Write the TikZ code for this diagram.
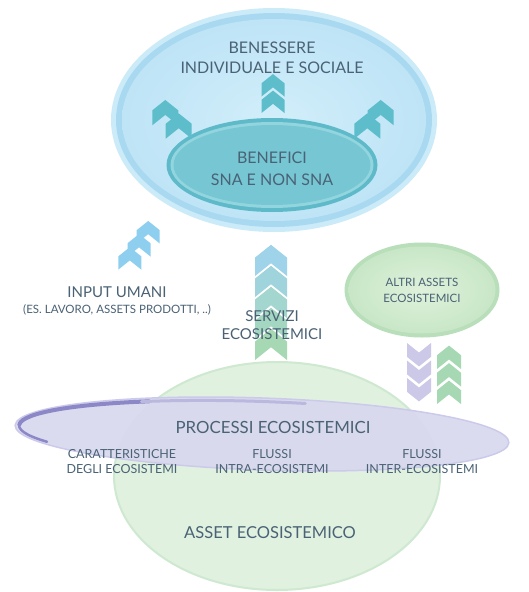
\documentclass[tikz,border=0pt]{standalone}
\usepackage{fontspec}
\setmainfont{Lato}
\usetikzlibrary{shapes.geometric,positioning}

\definecolor{txt}{HTML}{4A6275}
\definecolor{skyglow}{HTML}{CCEBF9}
\definecolor{skyrim}{HTML}{A9D9F1}
\definecolor{skyfill}{HTML}{BEE4F6}
\definecolor{skylite}{HTML}{D2EEFA}
\definecolor{tealrim}{HTML}{5EBAC9}
\definecolor{teallite}{HTML}{93D5DF}
\definecolor{tealfill}{HTML}{76C7D3}
\definecolor{tealchev}{HTML}{5DBDCB}
\definecolor{bluechev}{HTML}{8ECFF0}
\definecolor{colchev}{HTML}{9ED3EA}
\definecolor{greenchev}{HTML}{A6D9B3}
\definecolor{lilachev}{HTML}{CBC8E8}
\definecolor{greenrim}{HTML}{B8DFB9}
\definecolor{greenfill}{HTML}{C8E7C7}
\definecolor{greenlite}{HTML}{DFF1DB}
\definecolor{palegreen}{HTML}{E0F1E0}
\definecolor{palerim}{HTML}{CFE8D0}
\definecolor{lilacfill}{HTML}{D9D8EF}
\definecolor{lilacedge}{HTML}{CCCAEA}
\definecolor{lilacrim}{HTML}{8C88C8}

\tikzset{
  chev/.pic={\path[pic actions] (-1,-1.0) -- (-1,0.15) -- (0,0.95) -- (1,0.15) -- (1,-1.0) -- (0,-0.2) -- cycle;},
  blob/.style={ellipse, inner sep=0pt},
  bigtxt/.style={font=\fontsize{16}{20}\selectfont},
  smalltxt/.style={font=\fontsize{12.5}{15}\selectfont}
}

\begin{document}
\begin{tikzpicture}[x=1pt,y=1pt,every node/.style={text=txt,align=center}]

  \fill[white] (0,0) rectangle (528,-592);

  % asset ecosistemico
  \node[blob, minimum width=326pt, minimum height=228pt, fill=palegreen, draw=palerim, line width=2pt] (assetblob) at (277,-476) {};

  % processi ecosistemici
  \node[blob, minimum width=494pt, minimum height=72pt, rotate=-2, fill=lilacfill, fill opacity=.92, draw=lilacedge, line width=1.5pt] (procblob) at (262,-434) {};
  \begin{scope}[rotate around={-2:(262,-434)}]
    \draw[lilacrim, line width=2.5pt, line cap=round] (262,-434) ++(208:243 and 32.5) arc[start angle=208, end angle=175, x radius=243, y radius=32.5];
    \draw[lilacrim, line width=4pt, line cap=round] (262,-434) ++(178:243 and 32.5) arc[start angle=178, end angle=118, x radius=243, y radius=32.5];
    \draw[lilacrim!60, line width=3pt, line cap=round] (262,-434) ++(120:243 and 32.5) arc[start angle=120, end angle=80, x radius=243, y radius=32.5];
  \end{scope}

  % benessere
  \node[blob, minimum width=326pt, minimum height=224pt, fill=skyglow] (wellblob) at (274,-120) {};
  \node[blob, minimum width=316pt, minimum height=214pt, fill=skyrim] at (wellblob) {};
  \node[blob, minimum width=304pt, minimum height=202pt, inner color=skylite, outer color=skyfill] at (wellblob) {};

  % benefici
  \node[blob, minimum width=211pt, minimum height=94pt, fill=tealrim] (benblob) at (272,-165) {};
  \node[blob, minimum width=203pt, minimum height=86pt, fill=teallite] at (benblob) {};
  \node[blob, minimum width=197pt, minimum height=80pt, fill=tealfill] at (benblob) {};

  % altri assets
  \node[blob, minimum width=155pt, minimum height=95pt, fill=greenrim] (altriblob) at (422,-290) {};
  \node[blob, minimum width=147pt, minimum height=87pt, inner color=greenlite, outer color=greenfill] at (altriblob) {};

  % frecce
  \foreach \k in {0,1}
    \pic[fill=tealchev, scale=11.5] at (273,{-85-16.5*\k}) {chev};
  \begin{scope}[shift={(172,-119)}, rotate=45]
    \foreach \k in {-1,1} \pic[fill=tealchev, scale=13] at (0,9.5*\k) {chev};
  \end{scope}
  \begin{scope}[shift={(374,-119)}, rotate=-45]
    \foreach \k in {-1,1} \pic[fill=tealchev, scale=13] at (0,9.5*\k) {chev};
  \end{scope}
  \begin{scope}[shift={(139,-245)}, rotate=-35]
    \foreach \k in {-1,0,1} \pic[fill=bluechev, scale=11.5] at (0,16*\k) {chev};
  \end{scope}
  \foreach \k/\c in {0/100,1/75,2/50,3/25,4/0}
    \pic[fill=colchev!\c!greenchev, scale=16] at (271,{-260-21*\k}) {chev};
  \foreach \k in {0,1,2}
    \pic[fill=lilachev, scale=12, rotate=180] at (419,{-355-17.5*\k}) {chev};
  \foreach \k in {0,1,2}
    \pic[fill=greenchev, scale=12] at (449,{-357-17.5*\k}) {chev};

  % testi
  \node[bigtxt] (benessere) at (272,-58) {BENESSERE\\INDIVIDUALE E SOCIALE};
  \node[font=\fontsize{16}{22}\selectfont] (benefici) at (272,-169) {BENEFICI\\SNA E NON SNA};
  \node[font=\fontsize{15}{20}\selectfont] (input) at (117,-292) {INPUT UMANI};
  \node[font=\fontsize{11.5}{13}\selectfont, below=0pt of input] (esempi) {(ES. LAVORO, ASSETS PRODOTTI, ..)};
  \node[font=\fontsize{15}{18}\selectfont] (servizi) at (272,-325) {SERVIZI\\ECOSISTEMICI};
  \node[font=\fontsize{11.5}{16}\selectfont] (altri) at (422,-290) {ALTRI ASSETS\\ECOSISTEMICI};
  \node[font=\fontsize{16.8}{20}\selectfont] (processi) at (273,-427) {PROCESSI ECOSISTEMICI};
  \node[smalltxt] (caratt) at (122,-462) {CARATTERISTICHE\\DEGLI ECOSISTEMI};
  \node[smalltxt] (intra) at (272,-462) {FLUSSI\\INTRA-ECOSISTEMI};
  \node[smalltxt] (inter) at (422,-462) {FLUSSI\\INTER-ECOSISTEMI};
  \node[font=\fontsize{16.5}{20}\selectfont] (asset) at (270,-533) {ASSET ECOSISTEMICO};

\end{tikzpicture}
\end{document}
